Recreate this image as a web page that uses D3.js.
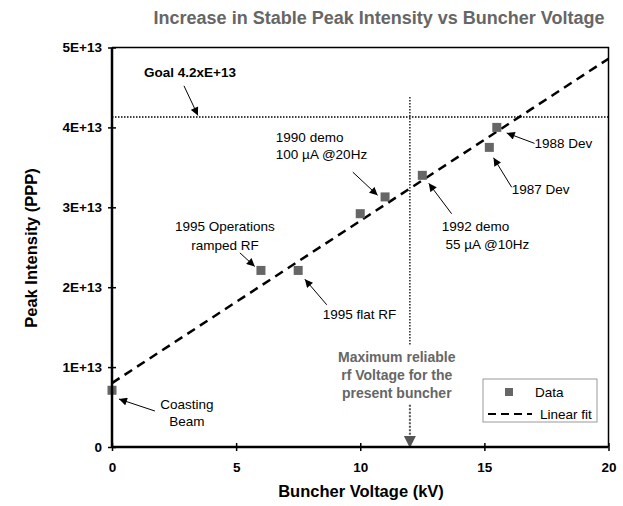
<!DOCTYPE html>
<html>
<head>
<meta charset="utf-8">
<script src="https://cdn.jsdelivr.net/npm/d3@7"></script>
<style>
  body { margin: 0; background: #fff; }
  svg { font-family: "Liberation Sans", Arial, sans-serif; }
</style>
</head>
<body>
<svg width="623" height="506"></svg>
<script>
// data (y in units of 1E+13)
var voltage = [0, 6, 7.5, 10, 11, 12.5, 15.2, 15.5];
var intensity = [0.71, 2.21, 2.21, 2.92, 3.13, 3.40, 3.75, 4.00];
var fitX = [0, 20];
var fitY = [0.80, 4.86];
var goal = 4.13;
var maxVolt = 12;
var xTicks = [0, 5, 10, 15, 20];
var yTicks = [0, 1, 2, 3, 4, 5];
var yTickLabels = ["0", "1E+13", "2E+13", "3E+13", "4E+13", "5E+13"];

// annotations: text lines, anchor, arrow from -> to (data units)
var notes = [
  {lines: ["Goal 4.2xE+13"], x: 1.29, y: [4.63], anchor: "start", bold: true, from: [2.9, 4.52], to: [3.46, 4.15]},
  {lines: ["1990 demo", "100 \u00b5A @20Hz"], x: 6.6, y: [3.82, 3.60], anchor: "start", from: [9.70, 3.44], to: [10.70, 3.15]},
  {lines: ["1995 Operations", "ramped RF"], x: 4.55, y: [2.70, 2.47], anchor: "middle", from: [5.15, 2.43], to: [5.75, 2.26]},
  {lines: ["1995 flat RF"], x: 8.49, y: [1.60], anchor: "start", from: [8.65, 1.78], to: [7.77, 2.10]},
  {lines: ["1992 demo", " 55 \u00b5A @10Hz"], x: 13.28, y: [2.70, 2.48], anchor: "start", from: [13.68, 2.92], to: [12.76, 3.30]},
  {lines: ["1988 Dev"], x: 17.02, y: [3.74], anchor: "start", from: [17.02, 3.80], to: [15.9, 3.93]},
  {lines: ["1987 Dev"], x: 16.1, y: [3.17], anchor: "start", from: [16.1, 3.25], to: [15.37, 3.62]},
  {lines: ["Coasting", "Beam"], x: 3.02, y: [0.48, 0.26], anchor: "middle", from: [1.73, 0.45], to: [0.28, 0.60]}
];
var maxNote = ["Maximum reliable", "rf Voltage for the", "present buncher"];

var svg = d3.select("svg");
var pLeft = 112, pRight = 608.5, pTop = 47.5, pBottom = 447;

var xs = d3.scaleLinear().domain([0, 20]).range([pLeft, pRight]);
var ys = d3.scaleLinear().domain([0, 5]).range([pBottom, pTop]);

svg.append("defs").append("marker")
    .attr("id", "ah").attr("viewBox", "0 0 10 10")
    .attr("refX", 10).attr("refY", 5)
    .attr("markerWidth", 9).attr("markerHeight", 8)
    .attr("markerUnits", "userSpaceOnUse")
    .attr("orient", "auto")
  .append("path").attr("d", "M0,0L10,5L0,10Z").attr("fill", "#000");

// title
svg.append("text").attr("x", 379).attr("y", 24)
    .attr("text-anchor", "middle").attr("font-size", 18).attr("font-weight", "bold")
    .attr("fill", "#666").text("Increase in Stable Peak Intensity vs Buncher Voltage");

// frame top/right
svg.append("path")
    .attr("d", "M" + pLeft + "," + pTop + "H" + pRight + "V" + pBottom)
    .attr("fill", "none").attr("stroke", "#000").attr("stroke-width", 1.5);

// goal line
svg.append("line")
    .attr("x1", xs(0)).attr("x2", xs(20)).attr("y1", ys(goal)).attr("y2", ys(goal))
    .attr("stroke", "#000").attr("stroke-width", 1.3).attr("stroke-dasharray", "1.5,1.5");

// max voltage line (broken around the label)
svg.append("line")
    .attr("x1", xs(maxVolt)).attr("x2", xs(maxVolt)).attr("y1", ys(4.38)).attr("y2", ys(1.28))
    .attr("stroke", "#000").attr("stroke-width", 1.3).attr("stroke-dasharray", "1.5,1.5");
svg.append("line")
    .attr("x1", xs(maxVolt)).attr("x2", xs(maxVolt)).attr("y1", ys(0.53)).attr("y2", ys(0.1))
    .attr("stroke", "#555").attr("stroke-width", 2).attr("stroke-dasharray", "2,1.5");
svg.append("path")
    .attr("d", "M" + (xs(maxVolt) - 6) + "," + (ys(0) - 11) + "h12l-6,12z")
    .attr("fill", "#555");
svg.append("g").selectAll("text").data(maxNote).enter().append("text")
    .attr("x", xs(11.47)).attr("y", function(d, i) { return ys(1.06) + i * 18; })
    .attr("text-anchor", "middle").attr("font-size", 14).attr("font-weight", "bold")
    .attr("fill", "#666").text(function(d) { return d; });

// fit line
var line = d3.line().x(function(d) { return xs(d[0]); }).y(function(d) { return ys(d[1]); });
svg.append("path").datum(d3.zip(fitX, fitY))
    .attr("d", line).attr("fill", "none").attr("stroke", "#000")
    .attr("stroke-width", 2.5).attr("stroke-dasharray", "9,6");

// data squares
svg.append("g").selectAll("rect").data(d3.zip(voltage, intensity)).enter().append("rect")
    .attr("x", function(d) { return xs(d[0]) - 4.5; })
    .attr("y", function(d) { return ys(d[1]) - 4.5; })
    .attr("width", 9).attr("height", 9).attr("fill", "#666");

// axes
var xAxis = svg.append("g").attr("transform", "translate(0," + pBottom + ")")
    .call(d3.axisBottom(xs).tickValues(xTicks).tickSize(4).tickPadding(11));
var yAxis = svg.append("g").attr("transform", "translate(" + pLeft + ",0)")
    .call(d3.axisLeft(ys).tickValues(yTicks).tickSize(4).tickPadding(6)
      .tickFormat(function(d, i) { return yTickLabels[i]; }));
[xAxis, yAxis].forEach(function(g) {
  g.select(".domain").attr("stroke-width", 2.5);
  g.selectAll(".tick line").attr("stroke-width", 1.5);
  g.selectAll(".tick text").attr("font-size", 13.5).attr("font-weight", "bold")
    .attr("font-family", "Liberation Sans, Arial, sans-serif").attr("fill", "#000");
});
xAxis.select(".domain").attr("d", "M" + pLeft + ",0H" + pRight);
yAxis.select(".domain").attr("d", "M0," + pBottom + "V" + pTop);
xAxis.selectAll(".tick line").attr("y1", -4).attr("y2", 4);
yAxis.selectAll(".tick line").attr("x1", -4).attr("x2", 4);

// axis titles
svg.append("text").attr("x", 361).attr("y", 497)
    .attr("text-anchor", "middle").attr("font-size", 16.5).attr("font-weight", "bold")
    .text("Buncher Voltage (kV)");
svg.append("text").attr("transform", "translate(37,248) rotate(-90)")
    .attr("text-anchor", "middle").attr("font-size", 16.5).attr("font-weight", "bold")
    .text("Peak Intensity (PPP)");

// annotations
notes.forEach(function(n) {
  var t = svg.append("text").attr("font-size", 13.5).attr("fill", "#000")
      .attr("text-anchor", n.anchor).attr("font-weight", n.bold ? "bold" : "normal")
      .style("white-space", "pre");
  n.lines.forEach(function(s, i) {
    t.append("tspan").attr("x", xs(n.x)).attr("y", ys(n.y[i])).text(s);
  });
  svg.append("line")
      .attr("x1", xs(n.from[0])).attr("y1", ys(n.from[1]))
      .attr("x2", xs(n.to[0])).attr("y2", ys(n.to[1]))
      .attr("stroke", "#000").attr("stroke-width", 1)
      .attr("marker-end", "url(#ah)");
});

// legend
var lg = svg.append("g").attr("transform", "translate(483,379)");
lg.append("rect").attr("width", 114).attr("height", 43)
    .attr("fill", "#fff").attr("stroke", "#999").attr("stroke-width", 1);
lg.append("rect").attr("x", 22).attr("y", 9).attr("width", 8).attr("height", 8).attr("fill", "#666");
lg.append("text").attr("x", 52).attr("y", 18).attr("font-size", 13.5).text("Data");
lg.append("line").attr("x1", 5).attr("x2", 49).attr("y1", 35).attr("y2", 35)
    .attr("stroke", "#000").attr("stroke-width", 2).attr("stroke-dasharray", "8,5");
lg.append("text").attr("x", 57).attr("y", 40).attr("font-size", 13.5).text("Linear fit");
</script>
</body>
</html>
